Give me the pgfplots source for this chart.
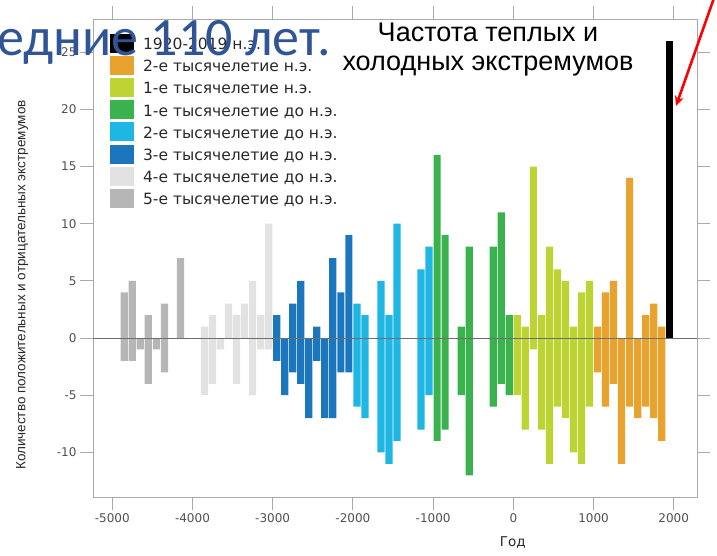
\documentclass[border=0pt]{standalone}
\usepackage{pgfplots}
\pgfplotsset{compat=1.18}
\usepackage{pgfplotstable}
\usetikzlibrary{arrows.meta}
\usepackage{fontspec}
\setmainfont{Carlito}
\newfontfamily\dejavu{DejaVu Sans}
\newfontfamily\arial{Liberation Sans}

\definecolor{corange}{RGB}{231,163,46}
\definecolor{cyg}{RGB}{190,212,52}
\definecolor{cgreen}{RGB}{58,178,78}
\definecolor{ccyan}{RGB}{30,182,226}
\definecolor{cblue}{RGB}{28,118,190}
\definecolor{clgray}{RGB}{226,226,226}
\definecolor{cgray}{RGB}{182,182,182}
\definecolor{ticklab}{RGB}{80,80,80}
\definecolor{framec}{RGB}{170,170,170}
\definecolor{legtext}{RGB}{40,40,40}
\definecolor{slideblue}{RGB}{47,85,151}

% x = centre of century bin, pos = positive extremes, neg = negative extremes
\pgfplotstableread{
x pos neg
1950 26 0
}\tblack
\pgfplotstableread{
x pos neg
1050 1 -3
1150 4 -6
1250 5 -4
1350 0 -11
1450 14 -6
1550 0 -7
1650 2 -6
1750 3 -7
1850 1 -9
}\torange
\pgfplotstableread{
x pos neg
50 2 -5
150 1 -8
250 15 -1
350 2 -8
450 8 -11
550 6 -6
650 5 -7
750 1 -10
850 4 -11
950 5 -6
}\tyg
\pgfplotstableread{
x pos neg
-950 16 -9
-850 9 -8
-650 1 -5
-550 8 -12
-250 8 -6
-150 11 -4
-50 2 -5
}\tgreen
\pgfplotstableread{
x pos neg
-1950 3 -6
-1850 2 -7
-1650 5 -10
-1550 2 -11
-1450 10 -9
-1150 6 -8
-1050 8 -5
}\tcyan
\pgfplotstableread{
x pos neg
-2950 2 -2
-2850 0 -5
-2750 3 -3
-2650 5 -4
-2550 0 -7
-2450 1 -2
-2350 0 -7
-2250 7 -7
-2150 4 -3
-2050 9 -3
}\tblue
\pgfplotstableread{
x pos neg
-3850 1 -5
-3750 2 -4
-3650 0 -1
-3550 3 0
-3450 2 -4
-3350 3 0
-3250 5 -5
-3150 2 -1
-3050 10 -1
}\tlgray
\pgfplotstableread{
x pos neg
-4850 4 -2
-4750 5 -2
-4650 0 -1
-4550 2 -4
-4450 0 -1
-4350 3 -3
-4150 7 0
}\tgray

\begin{document}
\begin{tikzpicture}[x=1pt,y=1pt]
\useasboundingbox (0,0) rectangle (717,555);
\clip (0,0) rectangle (717,555);
\begin{axis}[
  at={(93pt,58pt)}, anchor=south west,
  scale only axis, width=604pt, height=478pt,
  xmin=-5240, xmax=2290, ymin=-13.9, ymax=27.9,
  xtick={-5000,-4000,...,2000}, ytick={-10,-5,...,25},
  tick align=outside, major tick length=13pt,
  axis line style={framec},
  tick style={framec, line width=0.8pt},
  ticklabel style={font=\dejavu\fontsize{12}{14}\selectfont, text=ticklab},
  /pgf/number format/assume math mode=true,
  /pgf/number format/set thousands separator={},
  xlabel={Год},
  xlabel style={at={(axis description cs:0.695,-0.096)}, anchor=center,
    font=\dejavu\fontsize{13.5}{15}\selectfont, text=legtext},
  ylabel={Количество положительных и отрицательных экстремумов},
  ylabel style={at={(axis description cs:-0.1175,0.4435)}, anchor=center, rotate=0,
    font=\arial\fontsize{13.5}{15}\selectfont, text=legtext},
  mybar/.style={ybar, bar width=90, bar shift=0pt, fill=#1, draw=none},
  legend image code/.code={\fill[#1] (0pt,-8pt) rectangle (24pt,11pt);},
  legend cell align=left,
  legend style={at={(0.028,0.97)}, anchor=north west, draw=none, fill=none,
    font=\dejavu\fontsize{15.5}{17}\selectfont, text=legtext,
    inner sep=0pt, row sep=3.2pt, nodes={inner sep=0pt},
    /tikz/every odd column/.append style={column sep=9pt}},
]
\addplot[mybar=black] table[x=x,y=pos]{\tblack};
\addlegendentry{1920-2019 н.э.}
\addplot[mybar=corange] table[x=x,y=pos]{\torange};
\addlegendentry{2-е тысячелетие н.э.}
\addplot[mybar=cyg] table[x=x,y=pos]{\tyg};
\addlegendentry{1-е тысячелетие н.э.}
\addplot[mybar=cgreen] table[x=x,y=pos]{\tgreen};
\addlegendentry{1-е тысячелетие до н.э.}
\addplot[mybar=ccyan] table[x=x,y=pos]{\tcyan};
\addlegendentry{2-е тысячелетие до н.э.}
\addplot[mybar=cblue] table[x=x,y=pos]{\tblue};
\addlegendentry{3-е тысячелетие до н.э.}
\addplot[mybar=clgray] table[x=x,y=pos]{\tlgray};
\addlegendentry{4-е тысячелетие до н.э.}
\addplot[mybar=cgray] table[x=x,y=pos]{\tgray};
\addlegendentry{5-е тысячелетие до н.э.}
\addplot[mybar=corange, forget plot] table[x=x,y=neg]{\torange};
\addplot[mybar=cyg, forget plot] table[x=x,y=neg]{\tyg};
\addplot[mybar=cgreen, forget plot] table[x=x,y=neg]{\tgreen};
\addplot[mybar=ccyan, forget plot] table[x=x,y=neg]{\tcyan};
\addplot[mybar=cblue, forget plot] table[x=x,y=neg]{\tblue};
\addplot[mybar=clgray, forget plot] table[x=x,y=neg]{\tlgray};
\addplot[mybar=cgray, forget plot] table[x=x,y=neg]{\tgray};
\addplot[color={rgb,255:red,110;green,110;blue,110}, line width=0.7pt, forget plot]
  coordinates {(-5240,0) (2290,0)};
\end{axis}
\node[anchor=base, font=\arial\fontsize{27}{30}\selectfont, text=black] at (488,513) {Частота теплых и};
\node[anchor=base, font=\arial\fontsize{27}{30}\selectfont, text=black] at (488,484) {холодных экстремумов};
\node[anchor=base west, inner sep=0pt, font=\fontsize{54}{59}\selectfont, text=slideblue] at (-3,499) {едние 110 лет.};
\draw[red, line width=2.6pt, -{Stealth[length=10pt,width=9pt]}] (714,557) -- (676,449);
\end{tikzpicture}
\end{document}
